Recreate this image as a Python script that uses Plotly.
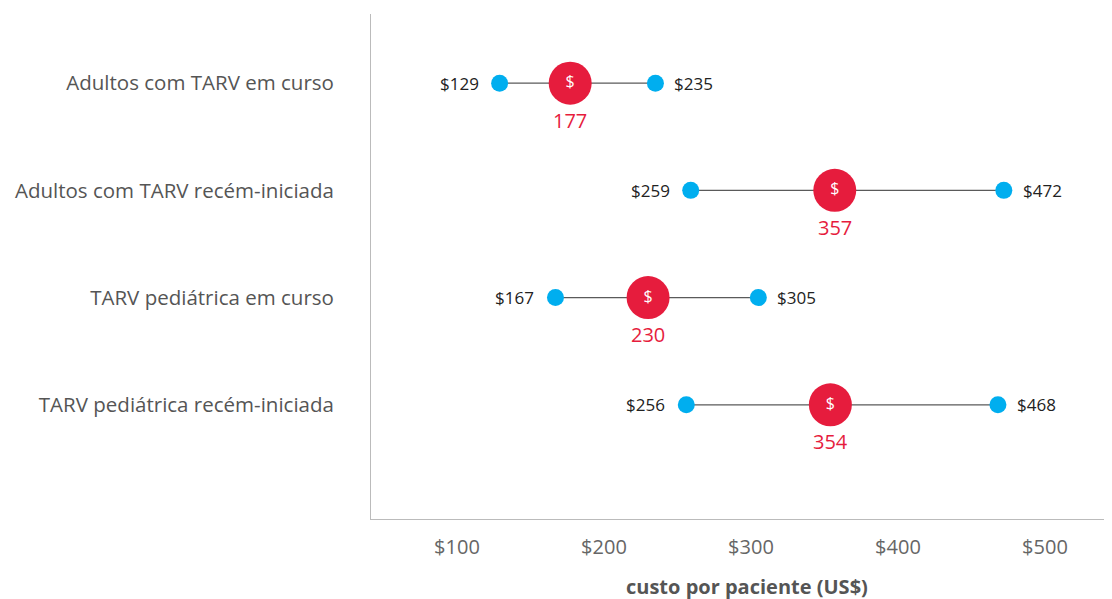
import plotly.graph_objects as go

categories = ["Adultos com TARV em curso", "Adultos com TARV recém-iniciada",
              "TARV pediátrica em curso", "TARV pediátrica recém-iniciada"]
low = [129, 259, 167, 256]
high = [235, 472, 305, 468]
mid = [177, 357, 230, 354]
tick_vals = [100, 200, 300, 400, 500]
tick_text = ["$100", "$200", "$300", "$400", "$500"]
x_title = "custo por paciente (US$)"

ypos = list(range(len(categories)))
FONT = "Open Sans"
RED = "#E61C3D"
BLUE = "#00AEEF"

fig = go.Figure()
for i in ypos:
    fig.add_trace(go.Scatter(x=[low[i], high[i]], y=[i, i], mode="lines",
                             line=dict(color="#5a5a5a", width=1.2), hoverinfo="skip",
                             showlegend=False))

fig.add_trace(go.Scatter(x=low + high, y=ypos + ypos, mode="markers",
                         marker=dict(color=BLUE, size=17), showlegend=False))
fig.add_trace(go.Scatter(x=mid, y=ypos, mode="markers+text",
                         marker=dict(color=RED, size=43),
                         text=["$"] * len(mid), textposition="middle center",
                         textfont=dict(family=FONT, size=16, color="white"),
                         showlegend=False))

annotations = []
for i in ypos:
    annotations.append(dict(x=low[i], y=i, xref="x", yref="y", text=f"${low[i]}",
                            showarrow=False, xanchor="right", yanchor="middle",
                            xshift=-19, font=dict(family=FONT, size=17, color="#222222")))
    annotations.append(dict(x=high[i], y=i, xref="x", yref="y", text=f"${high[i]}",
                            showarrow=False, xanchor="left", yanchor="middle",
                            xshift=17, font=dict(family=FONT, size=17, color="#222222")))
    annotations.append(dict(x=mid[i], y=i, xref="x", yref="y", text=str(mid[i]),
                            showarrow=False, xanchor="center", yanchor="middle",
                            yshift=-37, font=dict(family=FONT, size=20, color=RED)))
annotations.append(dict(x=0.508, y=-0.1327, xref="paper", yref="paper",
                        text=f"<b>{x_title}</b>", showarrow=False,
                        xanchor="center", yanchor="middle",
                        font=dict(family=FONT, size=20, color="#555555")))

fig.update_layout(
    width=1104, height=591,
    margin=dict(l=363, r=0, t=6, b=80, autoexpand=False),
    plot_bgcolor="white", paper_bgcolor="white",
    font=dict(family=FONT),
    annotations=annotations,
    xaxis=dict(range=[41.5, 545.6], tickvals=tick_vals, ticktext=tick_text,
               showgrid=False, zeroline=False, showline=True, linecolor="#BBBBBB",
               linewidth=1, ticks="", tickfont=dict(size=20, color="#666666"),
               ticklabelstandoff=10, automargin=False),
    yaxis=dict(range=[4.065, -0.645], tickvals=ypos, ticktext=categories,
               showgrid=False, zeroline=False, showline=True, linecolor="#BBBBBB",
               linewidth=1, ticks="", tickfont=dict(size=20.5, color="#555555"),
               ticklabelstandoff=32, automargin=False),
)

fig.write_html("out.html")
